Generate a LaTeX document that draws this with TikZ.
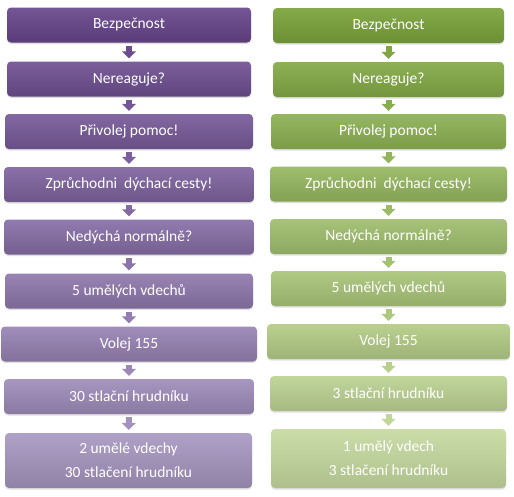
\documentclass[tikz,border=0pt]{standalone}
\usepackage{fontspec}
\setmainfont{Carlito}
\usepackage{tikz}
\usepackage{xcolor}
\usetikzlibrary{arrows.meta,shadows}
\definecolor{ptop}{RGB}{104,70,140}
\definecolor{pbot}{RGB}{168,152,194}
\definecolor{gtop}{RGB}{122,163,58}
\definecolor{gbot}{RGB}{198,218,160}
\tikzset{
    step-box/.style = {rectangle, rounded corners=4pt, inner sep=0pt, minimum height=35pt, align=center,
        text=white, font=\fontsize{15.5}{24}\selectfont,
        drop shadow={opacity=0.25, shadow xshift=0pt, shadow yshift=-1.5pt}},
    purple-box/.style = {step-box, top color=pbot!#1!ptop!92!white, bottom color=pbot!#1!ptop!86!black},
    green-box/.style = {step-box, top color=gbot!#1!gtop!92!white, bottom color=gbot!#1!gtop!88!black},
    flow-arrow/.style = {draw=#1, line width=6pt, -{Triangle[length=7pt, width=14pt]}, shorten <=3pt, shorten >=3pt},
}
\begin{document}
\begin{tikzpicture}[x=1pt, y=-1pt]
\useasboundingbox (0,0) rectangle (514,496);
% left column
\node [purple-box=0, minimum width=244pt] (p1) at (129,25) {Bezpečnost};
\node [purple-box=12, minimum width=244pt] (p2) at (129,79) {Nereaguje?};
\node [purple-box=25, minimum width=248pt] (p3) at (129,131.5) {Přivolej pomoc!};
\node [purple-box=37, minimum width=250pt] (p4) at (129,184.5) {Zprůchodni~ dýchací cesty!};
\node [purple-box=50, minimum width=250pt] (p5) at (129,237) {Nedýchá normálně?};
\node [purple-box=62, minimum width=248pt] (p6) at (129,291) {5 umělých vdechů};
\node [purple-box=75, minimum width=256pt] (p7) at (129,344) {Volej 155};
\node [purple-box=87, minimum width=250pt] (p8) at (129,396.5) {30 stlační hrudníku};
\node [purple-box=100, minimum width=247pt, minimum height=55pt] (p9) at (128.5,460.5) {2 umělé vdechy\\30 stlačení hrudníku};
\draw [flow-arrow=pbot!6!ptop] (p1) -- (p2);
\draw [flow-arrow=pbot!18!ptop] (p2) -- (p3);
\draw [flow-arrow=pbot!31!ptop] (p3) -- (p4);
\draw [flow-arrow=pbot!43!ptop] (p4) -- (p5);
\draw [flow-arrow=pbot!56!ptop] (p5) -- (p6);
\draw [flow-arrow=pbot!68!ptop] (p6) -- (p7);
\draw [flow-arrow=pbot!81!ptop] (p7) -- (p8);
\draw [flow-arrow=pbot!93!ptop] (p8) -- (p9);
% right column
\node [green-box=0, minimum width=231pt] (g1) at (388.5,25.5) {Bezpečnost};
\node [green-box=12, minimum width=231pt] (g2) at (388.5,79.5) {Nereaguje?};
\node [green-box=25, minimum width=235pt] (g3) at (388.5,131.5) {Přivolej pomoc!};
\node [green-box=37, minimum width=237pt] (g4) at (388.5,184) {Zprůchodni~ dýchací cesty!};
\node [green-box=50, minimum width=237pt] (g5) at (388.5,236.5) {Nedýchá normálně?};
\node [green-box=62, minimum width=235pt] (g6) at (388.5,288.5) {5 umělých vdechů};
\node [green-box=75, minimum width=243pt] (g7) at (388.5,341.5) {Volej 155};
\node [green-box=87, minimum width=237pt] (g8) at (388.5,393.5) {3 stlační hrudníku};
\node [green-box=100, minimum width=235pt, minimum height=59pt] (g9) at (388.5,458.5) {1 umělý vdech\\3 stlačení hrudníku};
\draw [flow-arrow=gbot!6!gtop] (g1) -- (g2);
\draw [flow-arrow=gbot!18!gtop] (g2) -- (g3);
\draw [flow-arrow=gbot!31!gtop] (g3) -- (g4);
\draw [flow-arrow=gbot!43!gtop] (g4) -- (g5);
\draw [flow-arrow=gbot!56!gtop] (g5) -- (g6);
\draw [flow-arrow=gbot!68!gtop] (g6) -- (g7);
\draw [flow-arrow=gbot!81!gtop] (g7) -- (g8);
\draw [flow-arrow=gbot!93!gtop] (g8) -- (g9);
\end{tikzpicture}
\end{document}
